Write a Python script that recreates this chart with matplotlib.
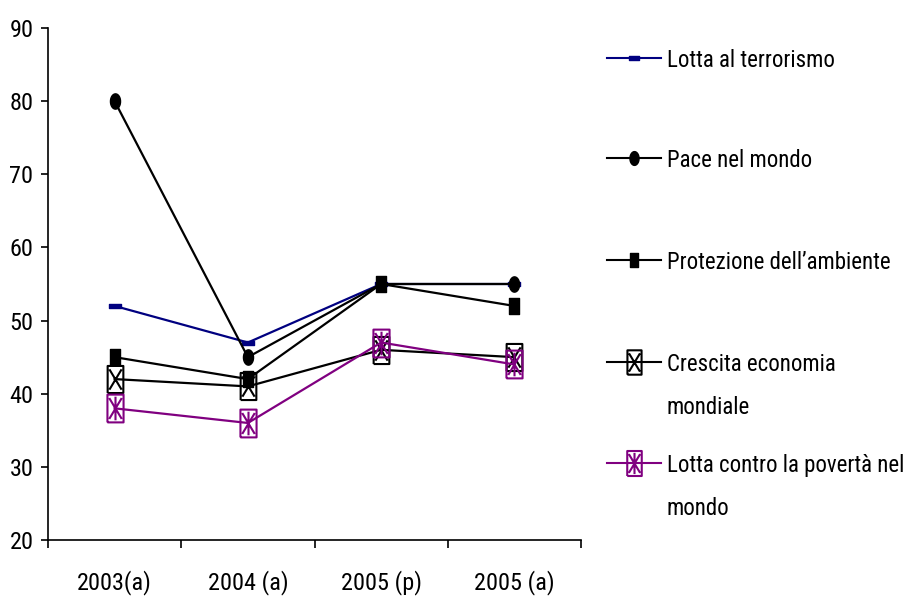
import numpy as np
import matplotlib
matplotlib.use("Agg")
import matplotlib.pyplot as plt
from matplotlib.path import Path
from matplotlib.lines import Line2D
from matplotlib import font_manager

# pick a narrow face if one is there, else Liberation Sans (Arial metrics)
have = {f.name for f in font_manager.fontManager.ttflist}
FONT, FS = 'Liberation Sans', 15
for name, size in [('Liberation Sans Narrow', 18.5), ('Arial Narrow', 18.5),
                   ('Roboto Condensed', 17.5), ('Open Sans Condensed', 17.5)]:
    if name in have:
        FONT, FS = name, size
        break
plt.rcParams['font.family'] = [FONT, 'DejaVu Sans']
LFS = FS * 0.94  # legend text a touch smaller so the last label fits

# data
categories = ['2003(a)', '2004 (a)', '2005 (p)', '2005 (a)']
terrorismo = [52, 47, 55, 55]
pace = [80, 45, 55, 55]
ambiente = [45, 42, 55, 52]
crescita = [42, 41, 46, 45]
poverta = [38, 36, 47, 44]
labels = ['Lotta al terrorismo', 'Pace nel mondo', "Protezione dell\u2019ambiente",
          'Crescita economia\nmondiale', 'Lotta contro la povert\u00e0 nel\nmondo']
yticks = [20, 30, 40, 50, 60, 70, 80, 90]

NAVY = '#000080'
PURPLE = '#800080'

# custom markers
dash = Path([(-1, -0.35), (1, -0.35), (1, 0.35), (-1, 0.35), (-1, -0.35)],
            [Path.MOVETO, Path.LINETO, Path.LINETO, Path.LINETO, Path.CLOSEPOLY])
t = np.linspace(0, 2 * np.pi, 40)
ellipse = Path(np.column_stack([0.66 * np.cos(t), np.sin(t)]))
tallsq = Path([(-0.62, -1), (0.62, -1), (0.62, 1), (-0.62, 1), (-0.62, -1)],
              [Path.MOVETO, Path.LINETO, Path.LINETO, Path.LINETO, Path.CLOSEPOLY])
bw = 0.58
box = [(-bw, -1), (bw, -1), (bw, 1), (-bw, 1), (-bw, -1)]
boxcodes = [Path.MOVETO, Path.LINETO, Path.LINETO, Path.LINETO, Path.LINETO]
xbox = Path(box + [(-0.45, -0.75), (0.45, 0.75), (-0.45, 0.75), (0.45, -0.75)],
            boxcodes + [Path.MOVETO, Path.LINETO, Path.MOVETO, Path.LINETO])
starbox = Path(box + [(-0.45, -0.75), (0.45, 0.75), (-0.45, 0.75), (0.45, -0.75),
                      (0, -0.85), (0, 0.85)],
               boxcodes + [Path.MOVETO, Path.LINETO, Path.MOVETO, Path.LINETO,
                           Path.MOVETO, Path.LINETO])

styles = [
    dict(color=NAVY, marker=dash, ms=8, mfc=NAVY, mec=NAVY, mew=1),
    dict(color='black', marker=ellipse, ms=11, mfc='black', mec='black', mew=1),
    dict(color='black', marker=tallsq, ms=11.5, mfc='black', mec='black', mew=1),
    dict(color='black', marker=xbox, ms=19.5, mfc='none', mec='black', mew=1.5),
    dict(color=PURPLE, marker=starbox, ms=20, mfc='none', mec=PURPLE, mew=1.5),
]
series = [terrorismo, pace, ambiente, crescita, poverta]

fig = plt.figure(figsize=(9.15, 6.01), dpi=100)
ax = fig.add_axes([48 / 915, 61 / 601, 533 / 915, 512 / 601])

x = np.arange(len(categories))
for vals, st in zip(series, styles):
    ax.plot(x, vals, lw=1.6, **st)

ax.set_xlim(-0.5, len(categories) - 0.5)
ax.set_ylim(20, 90)
ax.set_yticks(yticks)
ax.set_xticks(np.arange(len(categories) + 1) - 0.5)
ax.set_xticklabels([])
ax.set_xticks(x, minor=True)
ax.set_xticklabels(categories, minor=True)
ax.tick_params(axis='x', which='major', direction='out', length=6, width=1.2)
ax.tick_params(axis='x', which='minor', length=0, pad=22, labelsize=FS)
ax.tick_params(axis='y', direction='out', length=5, width=1.2, pad=5.5, labelsize=FS)
for s in ['top', 'right']:
    ax.spines[s].set_visible(False)
for s in ['left', 'bottom']:
    ax.spines[s].set_linewidth(1.2)

# legend drawn by hand
leg_y = [58, 158, 260, 362, 463]
for lab, st, yp in zip(labels, styles, leg_y):
    fy = 1 - yp / 601
    ln = Line2D([607 / 915, 661 / 915], [fy, fy], lw=1.5, transform=fig.transFigure,
                color=st['color'])
    fig.add_artist(ln)
    mk = Line2D([634 / 915], [fy], lw=0, transform=fig.transFigure,
                marker=st['marker'], ms=st['ms'] * 0.9, mfc=st['mfc'], mec=st['mec'],
                mew=st['mew'])
    fig.add_artist(mk)
    fig.text(667 / 915, 1 - yp / 601, lab.split('\n')[0], fontsize=LFS,
             va='center_baseline', ha='left')
    if '\n' in lab:
        fig.text(667 / 915, 1 - (yp + 43) / 601, lab.split('\n')[1], fontsize=LFS,
                 va='center_baseline', ha='left')

fig.savefig('out.png', dpi=100)
